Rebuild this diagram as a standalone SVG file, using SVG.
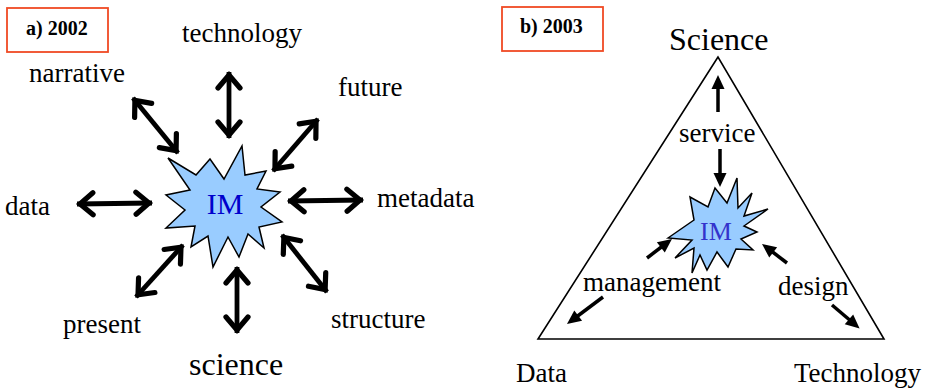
<svg xmlns="http://www.w3.org/2000/svg" width="933" height="392" viewBox="0 0 933 392">
<style>
text{font-family:"Liberation Serif","Times New Roman",serif;fill:#000}
.lbl{font-size:27px}
.big{font-size:32px}
.tag{font-size:20px;font-weight:bold}
.box{fill:#fff;stroke:#f04a24;stroke-width:1.8}
.star{fill:#99ccff;stroke:#000;stroke-width:1.5;stroke-linejoin:miter}
.dbl{fill:none;stroke:#000;stroke-width:4.8;stroke-linecap:butt;marker-start:url(#ch);marker-end:url(#ch)}
.one{fill:none;stroke:#000;stroke-width:3.5;marker-end:url(#tri)}
</style>
<defs>
<marker id="ch" viewBox="-20 -16 26 32" refX="3" refY="0" markerWidth="26" markerHeight="32" markerUnits="userSpaceOnUse" orient="auto-start-reverse">
<path d="M-13,-11 L0,0 L-13,11" fill="none" stroke="#000" stroke-width="5.2" stroke-linejoin="miter" stroke-linecap="round"/>
</marker>
<marker id="tri" viewBox="-2 -8 18 16" refX="4" refY="0" markerWidth="18" markerHeight="16" markerUnits="userSpaceOnUse" orient="auto">
<path d="M14,0 L0,-6.5 L0,6.5 z" fill="#000"/>
</marker>
</defs>

<g id="label-a">
<rect class="box" x="7" y="8" width="101" height="44"/>
<text class="tag" x="26" y="35">a) 2002</text>
</g>
<g id="label-b">
<rect class="box" x="502" y="7" width="101" height="44"/>
<text class="tag" x="520" y="33">b) 2003</text>
</g>

<g id="im-left">
<polygon class="star" points="168,158 196,175 210,159 224,179 242,146 245,175 266,171 257,189 280,192 261,207 282,222 259,227 264,248 248,234 239,257 228,237 213,267 208,236 191,247 195,226 166,228 185,210 166,195 190,190"/>
<text x="225" y="214" font-size="30" text-anchor="middle" style="fill:#0000cc">IM</text>
</g>

<g id="n-technology"><text class="lbl" x="182" y="42">technology</text></g>
<g id="n-narrative"><text class="lbl" x="29" y="82">narrative</text></g>
<g id="n-future"><text class="lbl" x="338" y="96">future</text></g>
<g id="n-data"><text class="lbl" x="5" y="215">data</text></g>
<g id="n-metadata"><text class="lbl" x="377" y="207">metadata</text></g>
<g id="n-present"><text class="lbl" x="63" y="333">present</text></g>
<g id="n-structure"><text class="lbl" x="331" y="328">structure</text></g>
<g id="n-science"><text class="big" x="189" y="375">science</text></g>

<g id="triangle">
<polygon points="718,57 538,339 884,339" fill="none" stroke="#000" stroke-width="1.6"/>
</g>
<g id="n-Science"><text class="big" x="669" y="50">Science</text></g>
<g id="n-Data"><text class="lbl" x="516" y="382">Data</text></g>
<g id="n-Technology"><text class="lbl" x="794" y="382">Technology</text></g>
<g id="n-service"><text class="lbl" x="679" y="142">service</text></g>
<g id="n-management"><text class="lbl" x="583" y="291">management</text></g>
<g id="n-design"><text class="lbl" x="778" y="295">design</text></g>

<g id="im-right">
<polygon class="star" points="668,238 694,220 690,197 708,207 715,188 727,203 737,178 738,208 752,193 744,216 768,209 744,226 757,232 741,239 753,250 736,249 728,267 717,252 707,270 700,255 692,273 694,248 675,258 692,240"/>
<text x="716" y="240" font-size="26" text-anchor="middle" style="fill:#3333cc">IM</text>
</g>

<g id="connectors">
<line class="dbl" x1="229" y1="72" x2="229" y2="138"/>
<line class="dbl" x1="133" y1="98" x2="178" y2="153"/>
<line class="dbl" x1="318" y1="119" x2="273" y2="171"/>
<line class="dbl" x1="77" y1="204" x2="152" y2="203"/>
<line class="dbl" x1="288" y1="201" x2="363" y2="200"/>
<line class="dbl" x1="136" y1="297" x2="183" y2="245"/>
<line class="dbl" x1="237" y1="267" x2="237" y2="333"/>
<line class="dbl" x1="282" y1="235" x2="327" y2="292"/>

<line class="one" x1="718" y1="112" x2="718" y2="85"/>
<line class="one" x1="720" y1="149" x2="720" y2="177"/>
<line class="one" x1="647" y1="258" x2="664" y2="245"/>
<line class="one" x1="603" y1="297" x2="575" y2="318"/>
<line class="one" x1="787" y1="263" x2="770" y2="250"/>
<line class="one" x1="832" y1="305" x2="852" y2="322"/>
</g>
</svg>
